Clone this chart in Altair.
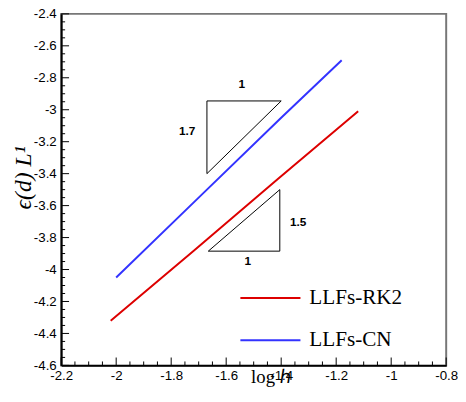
import altair as alt
import pandas as pd

# Series (log h, log error)
rk2_x = [-2.02, -1.72, -1.41, -1.12]
rk2_y = [-4.32, -3.885, -3.43, -3.01]
cn_x = [-2.00, -1.70, -1.40, -1.18]
cn_y = [-4.05, -3.55, -3.05, -2.69]
series_names = ["LLFs-RK2", "LLFs-CN"]
series_colors = ["#dd0000", "#3333ff"]

# Slope triangles (annotation)
tri_a_x = [-1.67, -1.40, -1.67, -1.67]
tri_a_y = [-2.945, -2.945, -3.40, -2.945]
tri_b_x = [-1.665, -1.405, -1.405, -1.665]
tri_b_y = [-3.885, -3.885, -3.50, -3.885]
ann_text = ["1", "1.7", "1.5", "1"]
ann_x = [-1.543, -1.742, -1.338, -1.521]
ann_y = [-2.84, -3.133, -3.704, -3.945]

# Tick values
x_major = [-2.2, -2.0, -1.8, -1.6, -1.4, -1.2, -1.0, -0.8]
y_major = [-4.6, -4.4, -4.2, -4.0, -3.8, -3.6, -3.4, -3.2, -3.0, -2.8, -2.6, -2.4]
x_minor = [-2.15, -2.1, -2.05, -1.95, -1.9, -1.85, -1.75, -1.7, -1.65,
           -1.55, -1.5, -1.45, -1.35, -1.3, -1.25, -1.15, -1.1, -1.05,
           -0.95, -0.9, -0.85]
y_minor = [-4.55, -4.5, -4.45, -4.35, -4.3, -4.25, -4.15, -4.1, -4.05,
           -3.95, -3.9, -3.85, -3.75, -3.7, -3.65, -3.55, -3.5, -3.45,
           -3.35, -3.3, -3.25, -3.15, -3.1, -3.05, -2.95, -2.9, -2.85,
           -2.75, -2.7, -2.65, -2.55, -2.5, -2.45]

W, H = 391, 357

lines = pd.DataFrame({
    "x": rk2_x + cn_x,
    "y": rk2_y + cn_y,
    "s": [series_names[0]] * len(rk2_x) + [series_names[1]] * len(cn_x),
    "o": list(range(len(rk2_x))) + list(range(len(cn_x))),
})
tris = pd.DataFrame({
    "x": tri_a_x + tri_b_x,
    "y": tri_a_y + tri_b_y,
    "t": ["a"] * 4 + ["b"] * 4,
    "o": list(range(4)) * 2,
})
ann = pd.DataFrame({"x": ann_x, "y": ann_y, "text": ann_text})

xs = alt.Scale(domain=[-2.2, -0.8], nice=False, zero=False)
ys = alt.Scale(domain=[-4.6, -2.4], nice=False, zero=False)

def axis(orient, values, pad, **kw):
    return alt.Axis(
        orient=orient, values=values, grid=False, ticks=False,
        domainColor="black", domainWidth=2,
        labelFont="Liberation Sans", labelFontSize=13.5, labelColor="black",
        labelOverlap=False, labelFlush=False, labelBound=False,
        labelSeparation=0, labelPadding=pad,
        labelExpr="toString(datum.value)",
        titleFont="Liberation Serif", titleFontWeight="normal", titleColor="black",
        **kw)

main = alt.Chart(lines).mark_line(strokeWidth=2).encode(
    x=alt.X("x:Q", scale=xs, axis=axis(
        "bottom", x_major, 3, title="log ℎ", titleFontSize=19,
        titleX=213, titleY=17, titleAlign="center", titleBaseline="alphabetic")),
    y=alt.Y("y:Q", scale=ys, axis=axis(
        "left", y_major, 5, title="ϵ(d) L¹", titleFontSize=24,
        titleFontStyle="italic", titleX=-38, titleY=166, titleAngle=270,
        titleAlign="center", titleBaseline="middle")),
    color=alt.Color("s:N", scale=alt.Scale(domain=series_names, range=series_colors),
                    legend=alt.Legend(
                        title=None, orient="none", legendX=181, legendY=257,
                        symbolType="stroke", symbolSize=3721, symbolStrokeWidth=2,
                        labelFont="Liberation Serif", labelFontSize=21.5,
                        labelColor="black", labelOffset=8, rowPadding=1)),
    order="o:O",
)

def xticks(vals, size):
    return alt.Chart(pd.DataFrame({"v": vals})).mark_rule(color="black", strokeWidth=1).encode(
        x=alt.X("v:Q", scale=xs, axis=None), y=alt.value(H), y2=alt.value(H - size))

def yticks(vals, size):
    return alt.Chart(pd.DataFrame({"v": vals})).mark_rule(color="black", strokeWidth=1).encode(
        y=alt.Y("v:Q", scale=ys, axis=None), x=alt.value(0), x2=alt.value(size))

tri_layer = alt.Chart(tris).mark_line(color="black", strokeWidth=1).encode(
    x=alt.X("x:Q", scale=xs, axis=None),
    y=alt.Y("y:Q", scale=ys, axis=None),
    detail="t:N",
    order="o:O",
)

txt = alt.Chart(ann).mark_text(font="Liberation Sans", fontSize=12,
                               fontWeight="bold", color="black").encode(
    x=alt.X("x:Q", scale=xs, axis=None),
    y=alt.Y("y:Q", scale=ys, axis=None),
    text="text:N",
)

chart = alt.layer(
    main, xticks(x_major, 8), xticks(x_minor, 4), yticks(y_major, 8), yticks(y_minor, 4),
    tri_layer, txt
).resolve_axis(x="independent", y="independent").properties(
    width=W, height=H,
    autosize=alt.AutoSizeParams(type="none"),
    padding={"left": 54, "top": 3, "right": 12, "bottom": 20},
).configure_view(stroke="#777777", strokeWidth=2)

chart.save("out.html", embed_options={"renderer": "svg", "actions": False})
